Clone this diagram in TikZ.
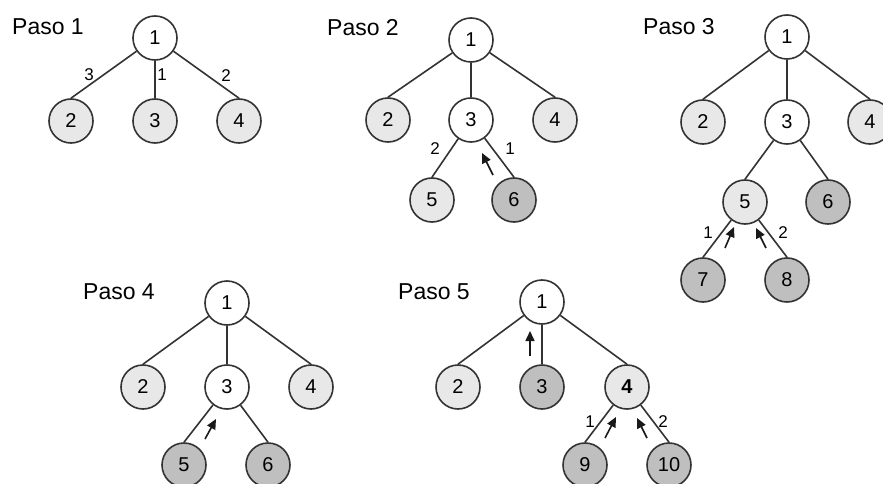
\documentclass[tikz,border=0pt]{standalone}
\usepackage{fontspec}
\setmainfont{Liberation Sans}
\usetikzlibrary{arrows.meta}

\begin{document}
\begin{tikzpicture}[x=1pt, y=-1pt,
    nodo/.style={circle, draw=black!80, line width=1.6pt, minimum size=44pt, inner sep=0pt, font=\fontsize{20}{24}\selectfont},
    blanco/.style={nodo, fill=white},
    claro/.style={nodo, fill=black!9},
    oscuro/.style={nodo, fill=black!25},
    arista/.style={draw=black!80, line width=1.6pt},
    etq/.style={font=\fontsize{17}{19}\selectfont, inner sep=0pt},
    paso/.style={font=\fontsize{23}{26}\selectfont, anchor=west, inner sep=0pt},
    flecha/.style={draw=black!90, line width=1.6pt, -{Triangle[length=10pt, width=9pt]}}
]
    \clip (0,0) rectangle (883,484);
    \fill[white] (0,0) rectangle (883,484);

    \node[paso] (t1) at (12,27) {Paso 1};
    \node[blanco] (a1) at (155,38) {1};
    \node[claro] (a2) at (71,121) {2};
    \node[claro] (a3) at (155,121) {3};
    \node[claro] (a4) at (239,121) {4};
    \draw[arista] (a1) -- (a2.north);
    \draw[arista] (a1) -- (a3.north);
    \draw[arista] (a1) -- (a4.north);
    \node[etq] (a12) at (89,75) {3};
    \node[etq] (a13) at (162,75) {1};
    \node[etq] (a14) at (226,76) {2};

    \node[paso] (t2) at (327,28) {Paso 2};
    \node[blanco] (b1) at (471,40) {1};
    \node[claro] (b2) at (388,120) {2};
    \node[blanco] (b3) at (471,120) {3};
    \node[claro] (b4) at (555,120) {4};
    \node[claro] (b5) at (432,200) {5};
    \node[oscuro] (b6) at (514,200) {6};
    \draw[arista] (b1) -- (b2.north);
    \draw[arista] (b1) -- (b3.north);
    \draw[arista] (b1) -- (b4.north);
    \draw[arista] (b3) -- (b5.north);
    \draw[arista] (b3) -- (b6.north);
    \node[etq] (b35) at (435,149) {2};
    \node[etq] (b36) at (510,149) {1};
    \coordinate (fb1) at (493,175);
    \coordinate (fb2) at (482,153);
    \draw[flecha] (fb1) -- (fb2);

    \node[paso] (t3) at (643,27) {Paso 3};
    \node[blanco] (c1) at (787,37) {1};
    \node[claro] (c2) at (703,122) {2};
    \node[blanco] (c3) at (787,122) {3};
    \node[claro] (c4) at (870,122) {4};
    \node[claro] (c5) at (745,202) {5};
    \node[oscuro] (c6) at (828,202) {6};
    \node[oscuro] (c7) at (703,280) {7};
    \node[oscuro] (c8) at (787,280) {8};
    \draw[arista] (c1) -- (c2.north);
    \draw[arista] (c1) -- (c3.north);
    \draw[arista] (c1) -- (c4.north);
    \draw[arista] (c3) -- (c5.north);
    \draw[arista] (c3) -- (c6.north);
    \draw[arista] (c5) -- (c7.north);
    \draw[arista] (c5) -- (c8.north);
    \node[etq] (c57) at (708,233) {1};
    \node[etq] (c58) at (783,233) {2};
    \coordinate (fc1) at (725,248);
    \coordinate (fc2) at (734,227);
    \coordinate (fc3) at (766,248);
    \coordinate (fc4) at (756,228);
    \draw[flecha] (fc1) -- (fc2);
    \draw[flecha] (fc3) -- (fc4);

    \node[paso] (t4) at (83,292) {Paso 4};
    \node[blanco] (d1) at (227,303) {1};
    \node[claro] (d2) at (143,387) {2};
    \node[blanco] (d3) at (227,387) {3};
    \node[claro] (d4) at (311,387) {4};
    \node[oscuro] (d5) at (184,465) {5};
    \node[oscuro] (d6) at (268,465) {6};
    \draw[arista] (d1) -- (d2.north);
    \draw[arista] (d1) -- (d3.north);
    \draw[arista] (d1) -- (d4.north);
    \draw[arista] (d3) -- (d5.north);
    \draw[arista] (d3) -- (d6.north);
    \coordinate (fd1) at (205,439);
    \coordinate (fd2) at (216,419);
    \draw[flecha] (fd1) -- (fd2);

    \node[paso] (t5) at (398,292) {Paso 5};
    \node[blanco] (e1) at (542,302) {1};
    \node[claro] (e2) at (458,387) {2};
    \node[oscuro] (e3) at (542,387) {3};
    \node[claro, font=\fontsize{20}{24}\selectfont\bfseries] (e4) at (627,387) {4};
    \node[oscuro] (e9) at (585,465) {9};
    \node[oscuro] (e10) at (669,465) {10};
    \draw[arista] (e1) -- (e2.north);
    \draw[arista] (e1) -- (e3.north);
    \draw[arista] (e1) -- (e4.north);
    \draw[arista] (e4) -- (e9.north);
    \draw[arista] (e4) -- (e10.north);
    \node[etq] (e49) at (590,422) {1};
    \node[etq] (e410) at (663,422) {2};
    \coordinate (fe1) at (530,356);
    \coordinate (fe2) at (530,331);
    \coordinate (fe3) at (605,438);
    \coordinate (fe4) at (616,417);
    \coordinate (fe5) at (647,438);
    \coordinate (fe6) at (637,418);
    \draw[flecha] (fe1) -- (fe2);
    \draw[flecha] (fe3) -- (fe4);
    \draw[flecha] (fe5) -- (fe6);
\end{tikzpicture}
\end{document}
